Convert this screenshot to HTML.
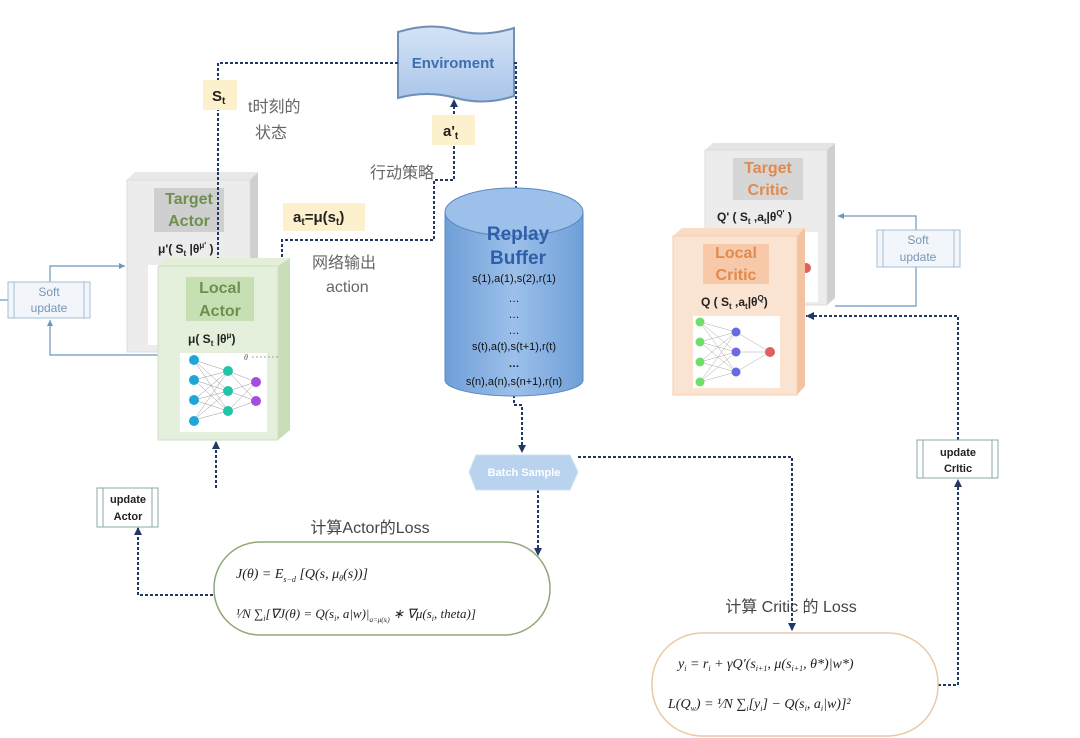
<!DOCTYPE html>
<html><head><meta charset="utf-8"><style>
html,body{margin:0;padding:0;background:#fff}
svg{display:block}
text{font-family:"Liberation Sans","Noto Sans CJK SC",sans-serif}
.m{font-family:"Liberation Serif",serif;font-style:italic}
</style></head><body>
<svg width="1080" height="738" viewBox="0 0 1080 738" xmlns="http://www.w3.org/2000/svg">
<defs>
<linearGradient id="env" x1="0" y1="0" x2="0" y2="1"><stop offset="0" stop-color="#d4e3f5"/><stop offset="1" stop-color="#a9c5ea"/></linearGradient>
<linearGradient id="cyl" x1="0" y1="0" x2="1" y2="0"><stop offset="0" stop-color="#6f9fd8"/><stop offset="0.5" stop-color="#9cc0ea"/><stop offset="1" stop-color="#6f9fd8"/></linearGradient>
<marker id="ah" markerUnits="userSpaceOnUse" markerWidth="8" markerHeight="8" refX="7" refY="4" orient="auto"><path d="M0,0 L8,4 L0,8z" fill="#1f3864"/></marker>
<marker id="ab" markerUnits="userSpaceOnUse" markerWidth="7" markerHeight="7" refX="6" refY="3.5" orient="auto"><path d="M0,0.5 L6,3.5 L0,6.5z" fill="#6a97bd"/></marker>
</defs>

<path d="M398,32 Q430,22 456,30 T514,28 L514,96 Q485,106 456,98 T398,98 Z" fill="url(#env)" stroke="#6f8fb5" stroke-width="2"/>
<text x="453" y="68" font-size="15" font-weight="bold" fill="#3d6fb0" text-anchor="middle">Enviroment</text>

<g fill="none" stroke="#1f3864" stroke-width="2" stroke-dasharray="3,2">
<path d="M398,63 L218,63 L218,255" marker-end="url(#ah)"/>
<path d="M514,63 L516,63 L516,202" marker-end="url(#ah)"/>
<path d="M282,357 L282,240 L434,240 L434,180 L454,180 L454,100" marker-end="url(#ah)"/>
<path d="M514,395 L514,405 L522,405 L522,452" marker-end="url(#ah)"/>
<path d="M538,490 L538,555" marker-end="url(#ah)"/>
<path d="M578,457 L792,457 L792,630" marker-end="url(#ah)"/>
<path d="M938,685 L958,685 L958,480" marker-end="url(#ah)"/>
<path d="M958,440 L958,316 L806,316"/>
<path d="M213,595 L138,595 L138,528" marker-end="url(#ah)"/>
<path d="M216,488 L216,442" marker-end="url(#ah)"/>
</g>

<rect x="203" y="80" width="34" height="30" fill="#fdf0cc"/>
<text x="212" y="101" font-size="15" font-weight="bold" fill="#222">S<tspan font-size="10" dy="3">t</tspan></text>
<text x="248" y="112" font-size="16" fill="#666">t时刻的</text>
<text x="255" y="138" font-size="16" fill="#666">状态</text>
<rect x="432" y="115" width="43" height="30" fill="#fdf0cc"/>
<text x="443" y="136" font-size="15" font-weight="bold" fill="#222">a'<tspan font-size="10" dy="3">t</tspan></text>
<text x="370" y="178" font-size="16" fill="#666">行动策略</text>
<rect x="283" y="203" width="82" height="28" fill="#fdf0cc"/>
<text x="293" y="222" font-size="15" font-weight="bold" fill="#222">a<tspan font-size="10" dy="3">t</tspan><tspan dy="-3">=μ(s</tspan><tspan font-size="10" dy="3">t</tspan><tspan dy="-3">)</tspan></text>
<text x="312" y="268" font-size="16" fill="#666">网络输出</text>
<text x="326" y="292" font-size="16" fill="#666">action</text>

<g fill="none" stroke="#6a97bd" stroke-width="1.2">
<path d="M50,282 L50,266 L125,266" marker-end="url(#ab)"/>
<path d="M158,355 L50,355 L50,320" marker-end="url(#ab)"/>
<path d="M0,300 L8,300"/>
<path d="M916,266 L916,306 L835,306"/>
<path d="M916,230 L916,216 L838,216" marker-end="url(#ab)"/>
</g>
<rect x="8" y="282" width="82" height="36" fill="#f2f6fb" stroke="#a6bcd6"/>
<line x1="14" y1="282" x2="14" y2="318" stroke="#a6bcd6"/><line x1="84" y1="282" x2="84" y2="318" stroke="#a6bcd6"/>
<text x="49" y="296" font-size="12" fill="#7a95b5" text-anchor="middle">Soft</text>
<text x="49" y="312" font-size="12" fill="#7a95b5" text-anchor="middle">update</text>

<path d="M127,180 L135,172 L258,172 L250,180Z" fill="#e8e8e8"/>
<path d="M250,180 L258,172 L258,345 L250,352Z" fill="#cfcfcf"/>
<rect x="127" y="180" width="123" height="172" fill="#ececec" stroke="#ddd"/>
<rect x="154" y="188" width="70" height="44" fill="#cfcfcf"/>
<text x="189" y="204" font-size="16" font-weight="bold" fill="#6f8f4f" text-anchor="middle">Target</text>
<text x="189" y="226" font-size="16" font-weight="bold" fill="#6f8f4f" text-anchor="middle">Actor</text>
<text x="158" y="253" font-size="12" font-weight="bold" fill="#222">μ'( S<tspan font-size="8" dy="3">t</tspan><tspan dy="-3"> |θ</tspan><tspan font-size="8" dy="-5">μ'</tspan><tspan dy="5"> )</tspan></text>
<rect x="148" y="265" width="20" height="80" fill="#fff"/>
<line x1="218" y1="172" x2="218" y2="258" stroke="#1f3864" stroke-width="2" stroke-dasharray="3,2"/>

<path d="M158,266 L166,258 L290,258 L278,266Z" fill="#e3efd8"/>
<path d="M278,266 L290,258 L290,430 L278,440Z" fill="#c8ddb8"/>
<rect x="158" y="266" width="120" height="174" fill="#e5f0dc" stroke="#cfe0c2"/>
<rect x="186" y="277" width="68" height="44" fill="#c6e0b4"/>
<text x="220" y="293" font-size="16" font-weight="bold" fill="#6f8f4f" text-anchor="middle">Local</text>
<text x="220" y="316" font-size="16" font-weight="bold" fill="#6f8f4f" text-anchor="middle">Actor</text>
<text x="188" y="343" font-size="12" font-weight="bold" fill="#222">μ( S<tspan font-size="8" dy="3">t</tspan><tspan dy="-3"> |θ</tspan><tspan font-size="8" dy="-5">μ</tspan><tspan dy="5">)</tspan></text>
<rect x="180" y="353" width="87" height="79" fill="#fff"/>
<g stroke="#999" stroke-width="0.5">
<path d="M194,360 L228,371 M194,380 L228,371 M194,400 L228,371 M194,420 L228,371 M194,360 L228,391 M194,380 L228,391 M194,400 L228,391 M194,420 L228,391 M194,360 L228,411 M194,380 L228,411 M194,400 L228,411 M194,420 L228,411 M228,371 L256,382 M228,391 L256,382 M228,411 L256,382 M228,371 L256,401 M228,391 L256,401 M228,411 L256,401"/>
</g>
<g fill="#1ea6d8"><circle cx="194" cy="360" r="5"/><circle cx="194" cy="380" r="5"/><circle cx="194" cy="400" r="5"/><circle cx="194" cy="421" r="5"/></g>
<g fill="#22c4a8"><circle cx="228" cy="371" r="5"/><circle cx="228" cy="391" r="5"/><circle cx="228" cy="411" r="5"/></g>
<g fill="#a64de0"><circle cx="256" cy="382" r="5"/><circle cx="256" cy="401" r="5"/></g>
<text x="244" y="360" font-size="8" fill="#555" class="m">θ</text>
<line x1="252" y1="357" x2="280" y2="357" stroke="#888" stroke-width="0.8" stroke-dasharray="2,2"/>

<rect x="97" y="488" width="61" height="39" fill="#fff" stroke="#8aa"/>
<line x1="103" y1="488" x2="103" y2="527" stroke="#8aa"/><line x1="152" y1="488" x2="152" y2="527" stroke="#8aa"/>
<text x="128" y="503" font-size="11" font-weight="bold" fill="#222" text-anchor="middle">update</text>
<text x="128" y="520" font-size="11" font-weight="bold" fill="#222" text-anchor="middle">Actor</text>

<path d="M445,212 L445,380 A69,16 0 0 0 583,380 L583,212" fill="url(#cyl)" stroke="#5b87c0"/>
<ellipse cx="514" cy="212" rx="69" ry="24" fill="#9cc0ea" stroke="#5b87c0"/>
<text x="518" y="240" font-size="19" font-weight="bold" fill="#2f5fa8" text-anchor="middle">Replay</text>
<text x="518" y="264" font-size="19" font-weight="bold" fill="#2f5fa8" text-anchor="middle">Buffer</text>
<g font-size="11" fill="#111" text-anchor="middle">
<text x="514" y="282">s(1),a(1),s(2),r(1)</text>
<text x="514" y="302">…</text><text x="514" y="318">…</text><text x="514" y="334">…</text>
<text x="514" y="350">s(t),a(t),s(t+1),r(t)</text>
<text x="514" y="367" font-weight="bold">…</text>
<text x="514" y="385">s(n),a(n),s(n+1),r(n)</text>
</g>

<path d="M476,455 L570,455 L578,472 L570,490 L476,490 L469,472Z" fill="#b9d3ee" stroke="#cfe0f2"/>
<text x="524" y="476" font-size="11" font-weight="bold" fill="#fff" text-anchor="middle">Batch Sample</text>

<text x="370" y="533" font-size="16" fill="#444" text-anchor="middle">计算Actor的Loss</text>
<rect x="214" y="542" width="336" height="93" rx="46" fill="#fff" stroke="#8fa878" stroke-width="1.5"/>
<text x="236" y="578" font-size="14" class="m" fill="#222">J(θ) = E<tspan font-size="8" dy="4">s−d</tspan><tspan dy="-4"> [Q(s, μ</tspan><tspan font-size="8" dy="3">θ</tspan><tspan dy="-3">(s))]</tspan></text>
<text x="236" y="618" font-size="13" class="m" fill="#222">¹⁄N ∑<tspan font-size="8" dy="3">i</tspan><tspan dy="-3">[∇J(θ) = Q(s</tspan><tspan font-size="8" dy="3">i</tspan><tspan dy="-3">, a|w)|</tspan><tspan font-size="7" dy="4">a=μ(sᵢ)</tspan><tspan dy="-4"> ∗ ∇μ(s</tspan><tspan font-size="8" dy="3">i</tspan><tspan dy="-3">, theta)]</tspan></text>

<path d="M705,150 L713,143 L835,143 L827,150Z" fill="#e4e4e4"/>
<path d="M827,150 L835,143 L835,298 L827,305Z" fill="#cfcfcf"/>
<rect x="705" y="150" width="122" height="155" fill="#ececec" stroke="#ddd"/>
<rect x="733" y="158" width="70" height="42" fill="#d6d6d6"/>
<text x="768" y="173" font-size="16" font-weight="bold" fill="#e08a50" text-anchor="middle">Target</text>
<text x="768" y="195" font-size="16" font-weight="bold" fill="#e08a50" text-anchor="middle">Critic</text>
<text x="717" y="221" font-size="12" font-weight="bold" fill="#222">Q'  ( S<tspan font-size="8" dy="3">t</tspan><tspan dy="-3"> ,a</tspan><tspan font-size="8" dy="3">t</tspan><tspan dy="-3">|θ</tspan><tspan font-size="8" dy="-5">Q'</tspan><tspan dy="5"> )</tspan></text>
<rect x="800" y="232" width="18" height="70" fill="#fff"/>
<circle cx="806" cy="268" r="5" fill="#e06060"/>

<path d="M673,236 L682,228 L805,228 L797,236Z" fill="#f9dcc6"/>
<path d="M797,236 L805,228 L805,386 L797,395Z" fill="#f3c3a0"/>
<rect x="673" y="236" width="124" height="159" fill="#fbe3d2" stroke="#f5cdb0"/>
<rect x="703" y="244" width="66" height="40" fill="#f7c9a8"/>
<text x="736" y="258" font-size="16" font-weight="bold" fill="#e08a50" text-anchor="middle">Local</text>
<text x="736" y="280" font-size="16" font-weight="bold" fill="#e08a50" text-anchor="middle">Critic</text>
<text x="701" y="306" font-size="12" font-weight="bold" fill="#222">Q ( S<tspan font-size="8" dy="3">t</tspan><tspan dy="-3"> ,a</tspan><tspan font-size="8" dy="3">t</tspan><tspan dy="-3">|θ</tspan><tspan font-size="8" dy="-5">Q</tspan><tspan dy="5">)</tspan></text>
<rect x="693" y="316" width="87" height="72" fill="#fff"/>
<g stroke="#aaa" stroke-width="0.5">
<path d="M700,322 L736,332 M700,342 L736,332 M700,362 L736,332 M700,382 L736,332 M700,322 L736,352 M700,342 L736,352 M700,362 L736,352 M700,382 L736,352 M700,322 L736,372 M700,342 L736,372 M700,362 L736,372 M700,382 L736,372 M736,332 L770,352 M736,352 L770,352 M736,372 L770,352"/>
</g>
<g fill="#6ee06a"><circle cx="700" cy="322" r="4.5"/><circle cx="700" cy="342" r="4.5"/><circle cx="700" cy="362" r="4.5"/><circle cx="700" cy="382" r="4.5"/></g>
<g fill="#6b6be0"><circle cx="736" cy="332" r="4.5"/><circle cx="736" cy="352" r="4.5"/><circle cx="736" cy="372" r="4.5"/></g>
<circle cx="770" cy="352" r="5" fill="#e06060"/>
<path d="M806,316 L814,312 L814,320Z" fill="#1f3864"/>

<rect x="877" y="230" width="83" height="37" fill="#f2f6fb" stroke="#a6bcd6"/>
<line x1="883" y1="230" x2="883" y2="267" stroke="#a6bcd6"/><line x1="954" y1="230" x2="954" y2="267" stroke="#a6bcd6"/>
<text x="918" y="244" font-size="12" fill="#7a95b5" text-anchor="middle">Soft</text>
<text x="918" y="261" font-size="12" fill="#7a95b5" text-anchor="middle">update</text>

<rect x="917" y="440" width="81" height="38" fill="#fff" stroke="#8aa"/>
<line x1="923" y1="440" x2="923" y2="478" stroke="#8aa"/><line x1="992" y1="440" x2="992" y2="478" stroke="#8aa"/>
<text x="958" y="456" font-size="11" font-weight="bold" fill="#222" text-anchor="middle">update</text>
<text x="958" y="472" font-size="11" font-weight="bold" fill="#222" text-anchor="middle">CrItic</text>

<text x="791" y="612" font-size="16" fill="#444" text-anchor="middle">计算 Critic 的 Loss</text>
<rect x="652" y="633" width="286" height="103" rx="50" fill="#fff" stroke="#e8c9a8" stroke-width="1.5"/>
<text x="678" y="668" font-size="14" class="m" fill="#222">y<tspan font-size="8" dy="3">i</tspan><tspan dy="-3"> = r</tspan><tspan font-size="8" dy="3">i</tspan><tspan dy="-3"> + γQ'(s</tspan><tspan font-size="8" dy="3">i+1</tspan><tspan dy="-3">, μ(s</tspan><tspan font-size="8" dy="3">i+1</tspan><tspan dy="-3">, θ*)|w*)</tspan></text>
<text x="668" y="708" font-size="14" class="m" fill="#222">L(Q<tspan font-size="8" dy="3">w</tspan><tspan dy="-3">) = ¹⁄N ∑</tspan><tspan font-size="8" dy="3">i</tspan><tspan dy="-3">[y</tspan><tspan font-size="8" dy="3">i</tspan><tspan dy="-3">] − Q(s</tspan><tspan font-size="8" dy="3">i</tspan><tspan dy="-3">, a</tspan><tspan font-size="8" dy="3">i</tspan><tspan dy="-3">|w)]²</tspan></text>
</svg>
</body></html>
